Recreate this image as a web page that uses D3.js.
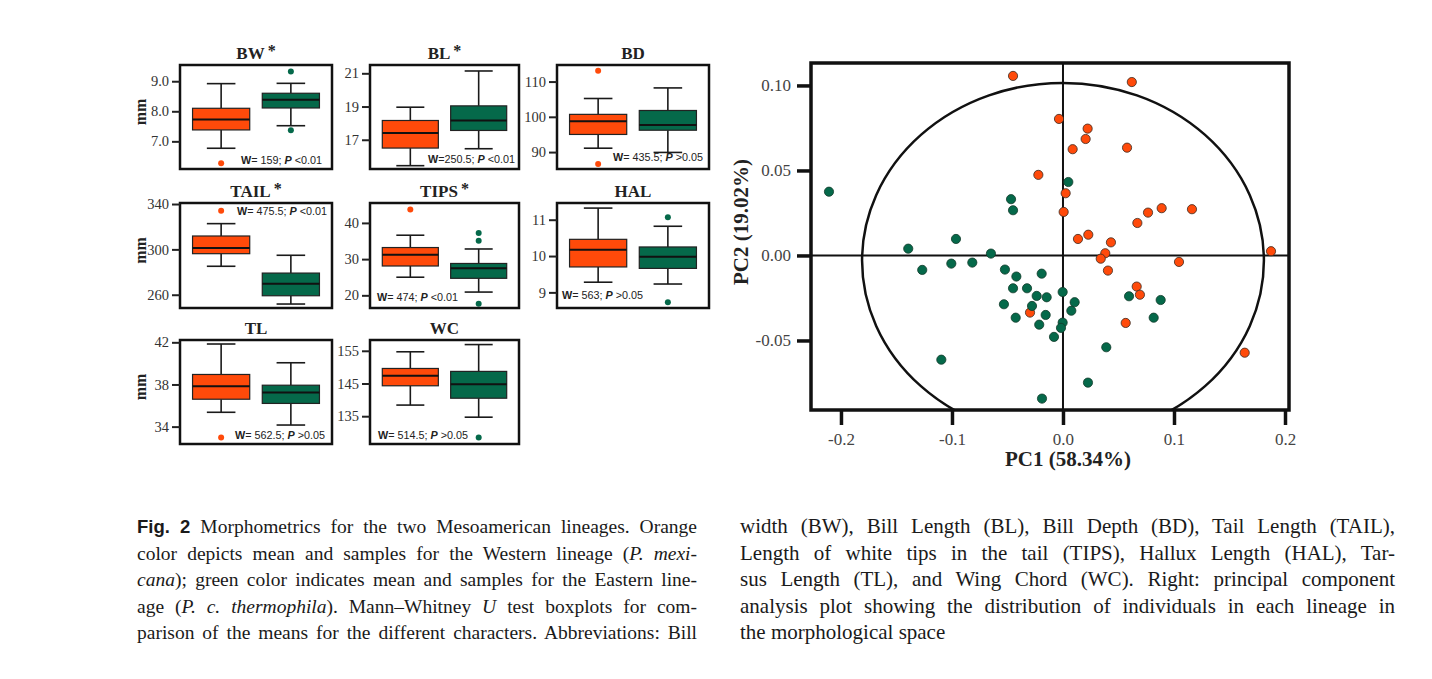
<!DOCTYPE html>
<html>
<head>
<meta charset="utf-8">
<script src="https://cdn.jsdelivr.net/npm/d3@7"></script>
<style>
  body { margin: 0; background: #fff; }
  svg { display: block; }
</style>
</head>
<body>
<svg id="fig"></svg>
<script>
// ---- boxplot data ----
const traits = ["BW", "BL", "BD", "TAIL", "TIPS", "HAL", "TL", "WC"];
const significant = [true, true, false, true, true, false, false, false];
const tickValues = [[7, 8, 9], [17, 19, 21], [90, 100, 110], [260, 300, 340],
                    [20, 30, 40], [9, 10, 11], [34, 38, 42], [135, 145, 155]];
const tickFormats = [".1f", "d", "d", "d", "d", "d", "d", "d"];
const yDomains = [[6.08, 9.54], [15.24, 21.5], [85.2, 114.7], [248.3, 340.9],
                  [16.5, 45.5], [8.57, 11.46], [32.35, 42.22], [126.5, 158.3]];

// [min, q1, median, q3, max]
const westStats = [
  [6.77, 7.38, 7.73, 8.10, 8.92],
  [15.44, 16.5, 17.4, 18.16, 18.96],
  [91.1, 95.0, 98.75, 100.7, 105.2],
  [285.1, 296.2, 301.2, 311.8, 322.7],
  [25.0, 28.1, 31.2, 33.2, 36.6],
  [9.28, 9.70, 10.17, 10.46, 11.32],
  [35.36, 36.6, 37.84, 38.95, 41.84],
  [138.4, 144.3, 147.4, 149.6, 154.7]
];
const eastStats = [
  [7.52, 8.11, 8.38, 8.60, 8.93],
  [16.46, 17.56, 18.16, 19.04, 21.14],
  [89.9, 96.2, 97.7, 101.8, 108.2],
  [251.8, 259.1, 269.7, 279.1, 294.8],
  [20.9, 24.7, 27.5, 28.8, 32.8],
  [9.23, 9.66, 9.98, 10.25, 10.82],
  [34.15, 36.2, 37.24, 37.93, 40.06],
  [134.7, 140.5, 144.8, 148.7, 156.9]
];
const westOutliers = [[6.27], [], [113.1, 86.6], [334.1], [43.7], [], [32.96], []];
const eastOutliers = [[9.32, 7.37], [], [], [], [37.2, 35.1, 17.7], [11.07, 8.73], [], [128.5]];
const wValues = ["= 159", "=250.5", "= 435.5", "= 475.5", "= 474", "= 563", "= 562.5", "= 514.5"];
const pValues = [" <0.01", " <0.01", " >0.05", " <0.01", " <0.01", " >0.05", " >0.05", " >0.05"];

// ---- PCA data ----
const westPC1 = [-0.045, 0.062, -0.0036, 0.0222, 0.0204, 0.0087, 0.0577, -0.0222, 0.0024, 0.0006,
                 0.0135, 0.0228, 0.0432, 0.0381, 0.034, 0.0405, 0.067, 0.0766, 0.0889, 0.1162,
                 0.1045, 0.1874, 0.0664, 0.0693, 0.0565, 0.1637, -0.0297];
const westPC2 = [0.1056, 0.102, 0.0803, 0.0746, 0.0685, 0.0625, 0.0634, 0.0474, 0.0366, 0.0256,
                 0.0097, 0.0122, 0.0077, 0.0013, -0.0019, -0.0089, 0.0191, 0.0252, 0.0278, 0.0272,
                 -0.0038, 0.0025, -0.0183, -0.0231, -0.0397, -0.0572, -0.0336];
const eastPC1 = [-0.2108, -0.0468, -0.045, 0.0048, -0.1394, -0.0964, -0.0649, -0.1268, -0.1006, -0.0817,
                 -0.0523, -0.042, -0.0192, -0.045, -0.0324, -0.0237, -0.0147, -0.0532, -0.0279, -0.0426,
                 -0.0156, -0.0214, -0.0081, -0.0003, 0.0105, 0.0075, -0.0003, -0.0018, -0.1096, -0.0189,
                 0.0225, 0.0595, 0.088, 0.0817, 0.039];
const eastPC2 = [0.0375, 0.0331, 0.0266, 0.0432, 0.004, 0.0097, 0.0011, -0.0085, -0.0048, -0.0042,
                 -0.0083, -0.0124, -0.0107, -0.0193, -0.0193, -0.0238, -0.0246, -0.0287, -0.0297, -0.0366,
                 -0.035, -0.0407, -0.0479, -0.0215, -0.0275, -0.0325, -0.0395, -0.0426, -0.0613, -0.0842,
                 -0.0748, -0.024, -0.0262, -0.0366, -0.054];
const pcTicksX = [-0.2, -0.1, 0.0, 0.1, 0.2];
const pcTicksY = [-0.05, 0.00, 0.05, 0.10];

// ---- caption ----
const captionLeft = [
  [["b", "Fig. 2"], ["n", " Morphometrics for the two Mesoamerican lineages. Orange"]],
  [["n", "color depicts mean and samples for the Western lineage ("], ["i", "P. mexi-"]],
  [["i", "cana"], ["n", "); green color indicates mean and samples for the Eastern line-"]],
  [["n", "age ("], ["i", "P. c. thermophila"], ["n", "). Mann–Whitney "], ["i", "U"], ["n", " test boxplots for com-"]],
  [["n", "parison of the means for the different characters. Abbreviations: Bill"]]
];
const captionRight = [
  [["n", "width (BW), Bill Length (BL), Bill Depth (BD), Tail Length (TAIL),"]],
  [["n", "Length of white tips in the tail (TIPS), Hallux Length (HAL), Tar-"]],
  [["n", "sus Length (TL), and Wing Chord (WC). Right: principal component"]],
  [["n", "analysis plot showing the distribution of individuals in each lineage in"]],
  [["n", "the morphological space"]]
];

const orange = "#FF4A0A";
const green = "#05694A";
const serif = "'Liberation Serif', 'Times New Roman', serif";
const sans = "'Liberation Sans', Arial, sans-serif";

const svg = d3.select("#fig").attr("width", 1432).attr("height", 679);
svg.append("rect").attr("width", 1432).attr("height", 679).attr("fill", "#fff");

// ---- boxplot panels ----
const colX = [[180, 332], [370, 519], [557, 709]];
const rowY = [[65, 169], [203, 308], [340, 444]];
// where the W / P note sits: corner, horizontal inset, vertical inset
const notePos = [["br", 10, 5], ["br", 4, 6], ["br", 6, 8], ["tr", 5, 12],
                 ["bl", 7, 7], ["bl", 5, 9], ["br", 7, 5], ["bl", 8, 5]];

traits.forEach((trait, i) => {
  const [x0, x1] = colX[i % 3];
  const [y0, y1] = rowY[Math.floor(i / 3)];
  const w = x1 - x0, h = y1 - y0;
  const g = svg.append("g").attr("transform", `translate(${x0},${y0})`);

  const x = d3.scaleBand().domain(["west", "east"]).range([0, w])
    .paddingInner(0.18).paddingOuter(0.18);
  const y = d3.scaleLinear().domain(yDomains[i]).range([h, 0]);

  const series = [
    { key: "west", stats: westStats[i], out: westOutliers[i], color: orange },
    { key: "east", stats: eastStats[i], out: eastOutliers[i], color: green }
  ];

  series.forEach(s => {
    const bx = x(s.key), bw = x.bandwidth(), cx = bx + bw / 2;
    const [mn, q1, md, q3, mx] = s.stats;
    const wg = g.append("g").attr("stroke", "#1a1a1a").attr("stroke-width", 1.6);
    wg.append("line").attr("x1", cx).attr("x2", cx).attr("y1", y(mx)).attr("y2", y(q3));
    wg.append("line").attr("x1", cx).attr("x2", cx).attr("y1", y(q1)).attr("y2", y(mn));
    wg.append("line").attr("x1", cx - bw / 4).attr("x2", cx + bw / 4).attr("y1", y(mx)).attr("y2", y(mx));
    wg.append("line").attr("x1", cx - bw / 4).attr("x2", cx + bw / 4).attr("y1", y(mn)).attr("y2", y(mn));
    g.append("rect").attr("x", bx).attr("y", y(q3)).attr("width", bw).attr("height", y(q1) - y(q3))
      .attr("fill", s.color).attr("stroke", "#222").attr("stroke-width", 1.2);
    g.append("line").attr("x1", bx).attr("x2", bx + bw).attr("y1", y(md)).attr("y2", y(md))
      .attr("stroke", "#111").attr("stroke-width", 2);
    g.selectAll(null).data(s.out).enter().append("circle")
      .attr("cx", cx).attr("cy", d => y(d)).attr("r", 3).attr("fill", s.color);
  });

  g.append("rect").attr("width", w).attr("height", h)
    .attr("fill", "none").attr("stroke", "#111").attr("stroke-width", 2.5);

  const ax = g.append("g").call(d3.axisLeft(y).tickValues(tickValues[i])
    .tickFormat(d3.format(tickFormats[i])).tickSize(8).tickPadding(3));
  ax.select(".domain").remove();
  ax.selectAll(".tick line").attr("stroke", "#222").attr("stroke-width", 2);
  ax.selectAll(".tick text").attr("font-family", serif).attr("font-size", 14.5).attr("fill", "#333");

  // title
  const title = g.append("text").attr("x", w / 2).attr("y", -6).attr("text-anchor", "middle")
    .attr("font-family", serif).attr("font-weight", "bold").attr("font-size", 17).attr("fill", "#222")
    .text(trait);
  if (significant[i]) title.append("tspan").attr("dx", 3).attr("dy", -3).attr("font-size", 16).text("*");

  if (i % 3 === 0) {
    g.append("text").attr("transform", `translate(-34,${h / 2 - 5}) rotate(-90)`)
      .attr("text-anchor", "middle").attr("font-family", serif).attr("font-weight", "bold")
      .attr("font-size", 16).attr("fill", "#222").text("mm");
  }

  // test statistic
  const [pos, dx, dy] = notePos[i];
  const note = g.append("text")
    .attr("x", pos[1] === "r" ? w - dx : dx)
    .attr("y", pos[0] === "t" ? dy : h - dy)
    .attr("text-anchor", pos[1] === "r" ? "end" : "start")
    .attr("font-family", sans).attr("font-size", 10.8).attr("fill", "#222");
  note.append("tspan").attr("font-weight", "bold").text("W");
  note.append("tspan").text(wValues[i] + "; ");
  note.append("tspan").attr("font-weight", "bold").attr("font-style", "italic").text("P");
  note.append("tspan").text(pValues[i]);
});

// ---- PCA plot ----
const pc = { left: 811, right: 1289, top: 63, bottom: 410 };
const px = d3.scaleLinear().domain([-0.227, 0.2036]).range([pc.left, pc.right]);
const py = d3.scaleLinear().domain([-0.0909, 0.1132]).range([pc.bottom, pc.top]);
const pg = svg.append("g");

svg.append("defs").append("clipPath").attr("id", "pcclip").append("rect")
  .attr("x", pc.left).attr("y", pc.top).attr("width", pc.right - pc.left).attr("height", pc.bottom - pc.top);

pg.append("ellipse").attr("clip-path", "url(#pcclip)")
  .attr("cx", px(0)).attr("cy", py(-0.003))
  .attr("rx", px(0.181) - px(0)).attr("ry", py(0) - py(0.1045))
  .attr("fill", "none").attr("stroke", "#111").attr("stroke-width", 2.5);

pg.append("line").attr("x1", pc.left).attr("x2", pc.right).attr("y1", py(0)).attr("y2", py(0))
  .attr("stroke", "#111").attr("stroke-width", 2);
pg.append("line").attr("x1", px(0)).attr("x2", px(0)).attr("y1", pc.top).attr("y2", pc.bottom)
  .attr("stroke", "#111").attr("stroke-width", 2);

pg.selectAll(".w").data(d3.range(westPC1.length)).enter().append("circle")
  .attr("cx", i => px(westPC1[i])).attr("cy", i => py(westPC2[i])).attr("r", 4.6)
  .attr("fill", orange).attr("stroke", "#3a2a20").attr("stroke-width", 0.8);
pg.selectAll(".e").data(d3.range(eastPC1.length)).enter().append("circle")
  .attr("cx", i => px(eastPC1[i])).attr("cy", i => py(eastPC2[i])).attr("r", 4.6)
  .attr("fill", green).attr("stroke", "#123a2a").attr("stroke-width", 0.8);

pg.append("rect").attr("x", pc.left).attr("y", pc.top)
  .attr("width", pc.right - pc.left).attr("height", pc.bottom - pc.top)
  .attr("fill", "none").attr("stroke", "#111").attr("stroke-width", 3.5);

const hyphen = f => d => d3.format(f)(d).replace("\u2212", "-");
const ayx = pg.append("g").attr("transform", `translate(${pc.left},0)`)
  .call(d3.axisLeft(py).tickValues(pcTicksY).tickFormat(hyphen(".2f")).tickSize(14).tickPadding(6));
const axx = pg.append("g").attr("transform", `translate(0,${pc.bottom})`)
  .call(d3.axisBottom(px).tickValues(pcTicksX).tickFormat(hyphen(".1f")).tickSize(15).tickPadding(8));
[ayx, axx].forEach(a => {
  a.select(".domain").remove();
  a.selectAll(".tick line").attr("stroke", "#111").attr("stroke-width", 3.5);
  a.selectAll(".tick text").attr("font-family", serif).attr("font-size", 17).attr("fill", "#444");
});

pg.append("text").attr("x", 1068).attr("y", 466).attr("text-anchor", "middle")
  .attr("font-family", serif).attr("font-weight", "bold").attr("font-size", 21).attr("fill", "#222")
  .text("PC1 (58.34%)");
pg.append("text").attr("transform", "translate(748,222) rotate(-90)").attr("text-anchor", "middle")
  .attr("font-family", serif).attr("font-weight", "bold").attr("font-size", 21).attr("fill", "#222")
  .text("PC2 (19.02%)");

// ---- caption (justified by widening word gaps) ----
function captionColumn(lines, x, width, size, justifyLast) {
  lines.forEach((segs, k) => {
    const t = svg.append("text").attr("x", x).attr("y", 533 + k * 26.5)
      .attr("font-family", serif).attr("font-size", size).attr("fill", "#1a1a1a");
    segs.forEach(([style, str]) => {
      const ts = t.append("tspan").text(str);
      if (style === "b") ts.attr("font-family", sans).attr("font-weight", "bold").attr("font-size", size - 1);
      if (style === "i") ts.attr("font-style", "italic");
    });
    if (k < lines.length - 1 || justifyLast) {
      const natural = t.node().getComputedTextLength();
      const gaps = segs.map(s => s[1]).join("").split(" ").length - 1;
      if (gaps > 0) t.attr("word-spacing", Math.max(0, (width - natural) / gaps));
    }
  });
}
captionColumn(captionLeft, 137, 560, 19.5, true);
captionColumn(captionRight, 740, 655, 21, false);
</script>
</body>
</html>
